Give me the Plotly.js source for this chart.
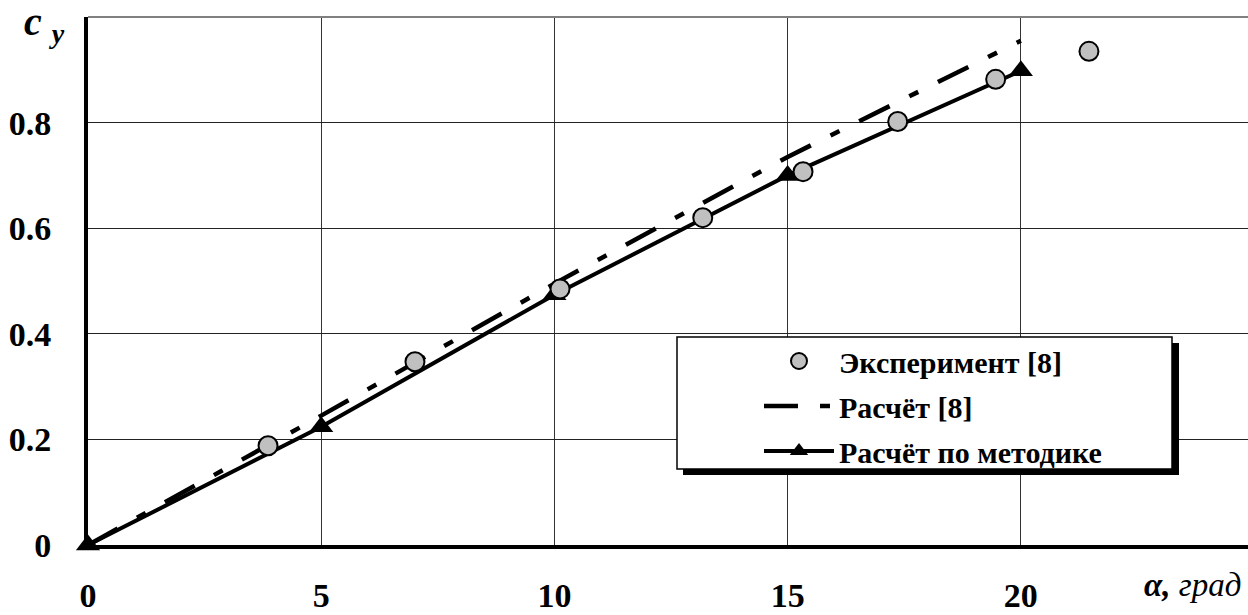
<!DOCTYPE html>
<html>
<head>
<meta charset="utf-8">
<script src="https://cdn.plot.ly/plotly-3.0.1.min.js"></script>
<style>html,body{margin:0;padding:0;background:#fff}#chart{width:1248px;height:615px}</style>
</head>
<body>
<div id="chart"></div>
<script>
// Experiment [8]
const expAlpha = [3.86, 7.01, 10.12, 13.18, 15.33, 17.36, 19.46, 21.46];
const expCy    = [0.188, 0.347, 0.485, 0.620, 0.707, 0.802, 0.882, 0.935];
// Calculation [8]
const calc8Alpha = [0, 5, 10, 15, 20];
const calc8Cy    = [0, 0.245, 0.495, 0.735, 0.955];
// Calculation by method
const methAlpha = [0, 5, 10, 15, 20];
const methCy    = [0, 0.224, 0.474, 0.700, 0.898];
// ticks
const xTicks = [0, 5, 10, 15, 20];
const xTickText = ["0", "5", "10", "15", "20"];
const yTicks = [0, 0.2, 0.4, 0.6, 0.8];
const yTickText = ["0", "0.2", "0.4", "0.6", "0.8"];
const names = ["Эксперимент [8]", "Расчёт [8]", "Расчёт по методике"];

const serif = "Liberation Serif, Times New Roman, serif";
const L = 88, T = 17, W = 1160, H = 528;
const px = v => (v - L) / W;
const py = v => (T + H - v) / H;

const traces = [
  {x: expAlpha, y: expCy, name: names[0], mode: "markers", type: "scatter",
   marker: {symbol: "circle", size: 19, color: "#c0c0c0", line: {color: "#000", width: 2}},
   legendgroup: "a", legendrank: 1, cliponaxis: false},
  {x: calc8Alpha, y: calc8Cy, name: names[1], mode: "lines", type: "scatter",
   line: {color: "#000", width: 4.5, dash: "34px,22px,10px,22px"},
   legendgroup: "b", legendrank: 2},
  {x: methAlpha, y: methCy, name: names[2], mode: "lines+markers", type: "scatter",
   line: {color: "#000", width: 4},
   marker: {symbol: "triangle-up", size: 21, color: "#000"},
   legendgroup: "c", legendrank: 3, cliponaxis: false}
];
// reorder so experiment draws on top
const data = [traces[1], traces[2], traces[0]];

const layout = {
  width: 1248, height: 615,
  margin: {l: L, r: 0, t: T, b: 615 - T - H, pad: 0},
  paper_bgcolor: "#fff", plot_bgcolor: "#fff",
  showlegend: true,
  legend: {
    x: px(759), y: py(335), xanchor: "left", yanchor: "top",
    bgcolor: "rgba(0,0,0,0)", borderwidth: 0,
    font: {family: serif, size: 30, color: "#000", weight: "bold"},
    traceorder: "grouped", tracegroupgap: 3, itemwidth: 70,
    itemclick: false
  },
  xaxis: {
    range: [0, 24.87], tickvals: xTicks, ticktext: xTickText,
    showgrid: true, gridcolor: "#333", gridwidth: 1,
    zeroline: false, showline: true, linecolor: "#000", linewidth: 4,
    ticks: "", ticklabelstandoff: 17,
    tickfont: {family: serif, size: 34, color: "#000", weight: "bold"}
  },
  yaxis: {
    range: [0, 1.0], tickvals: yTicks, ticktext: yTickText,
    showgrid: true, gridcolor: "#222", gridwidth: 1,
    zeroline: false, showline: true, linecolor: "#000", linewidth: 4,
    ticks: "", ticklabelstandoff: 26,
    tickfont: {family: serif, size: 34, color: "#000", weight: "bold"}
  },
  shapes: [
    {type: "line", xref: "paper", yref: "paper", x0: 0, x1: 1, y0: 1, y1: 1,
     line: {color: "#808080", width: 2}},
    {type: "rect", xref: "paper", yref: "paper", layer: "above",
     x0: px(683), x1: px(1179), y0: py(475), y1: py(343),
     fillcolor: "#000", line: {width: 0}},
    {type: "rect", xref: "paper", yref: "paper", layer: "above",
     x0: px(677), x1: px(1172), y0: py(469), y1: py(337),
     fillcolor: "#fff", line: {color: "#000", width: 1.5}}
  ],
  annotations: [
    {xref: "paper", yref: "paper", x: px(22), y: py(-3), xanchor: "left", yanchor: "top",
     showarrow: false,
     text: "<b><i>c</i></b> <sub><b><i>y</i></b></sub>",
     font: {family: serif, size: 40, color: "#000"}},
    {xref: "paper", yref: "paper", x: px(1243), y: py(585), xanchor: "right", yanchor: "middle",
     showarrow: false,
     text: "<b><i>α,</i></b> <i>град</i>",
     font: {family: serif, size: 33, color: "#000"}}
  ]
};

Plotly.newPlot("chart", data, layout, {displayModeBar: false, staticPlot: true});
</script>
</body>
</html>
